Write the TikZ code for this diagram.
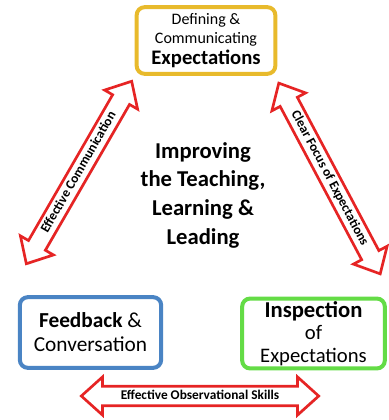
\documentclass[tikz,border=0pt]{standalone}
\usepackage{fontspec}
\setmainfont{Carlito}
\usetikzlibrary{arrows.meta,positioning,shapes.arrows,shadows}

\definecolor{boxgold}{RGB}{232,186,44}
\definecolor{boxblue}{RGB}{74,132,196}
\definecolor{boxgreen}{RGB}{100,220,70}
\definecolor{arrred}{RGB}{230,36,36}

\begin{document}
\begin{tikzpicture}[
    x=0.75pt, y=-0.75pt,
    box/.style={draw, line width=3pt, rounded corners=6pt, fill=white,
                align=center, inner sep=2pt},
    dblarr/.style={double arrow, draw=arrred, line width=2pt, fill=white,
                   double arrow head extend=7pt, double arrow tip angle=84,
                   inner xsep=0pt, inner ysep=1.6pt,
                   text height=7.2pt, text depth=2.2pt,
                   font=\fontsize{10}{10}\selectfont\bfseries,
                   drop shadow={opacity=0.25, shadow xshift=0.8pt, shadow yshift=-0.8pt}},
    big/.style={font=\fontsize{17}{21.5}\selectfont\bfseries, align=center}
  ]
  \useasboundingbox (0,0) rectangle (388,420);

  % boxes
  \node (define) [box, draw=boxgold, minimum width=104pt, minimum height=50pt,
                  font=\fontsize{12}{14}\selectfont]
        at (206,40.5)
        {Defining \&\\
         Communicating\\[1.5pt]
         {\fontsize{15.5}{14}\selectfont\bfseries Expectations}};
  \node (feed)   [box, draw=boxblue, minimum width=106pt, minimum height=53pt,
                  font=\fontsize{16}{18}\selectfont]
        at (90.5,332.5)
        {\textbf{Feedback} \&\\Conversation};
  \node (insp)   [box, draw=boxgreen, minimum width=107pt, minimum height=52pt,
                  font=\fontsize{15.5}{17}\selectfont]
        at (313.5,333.5)
        {{\fontsize{17}{17}\selectfont\bfseries Inspection}\\of\\Expectations};

  \node (core) [big] at (203,195)
        {Improving\\the Teaching,\\Learning \&\\Leading};

  % links
  \node (comm)  [dblarr, minimum height=158pt, rotate=60]  at (79,172.5)
        {Effective Communication};
  \node (focus) [dblarr, minimum height=162pt, rotate=-62] at (329.5,178.5)
        {Clear Focus of Expectations};
  \node (obs)   [dblarr, minimum height=178pt]             at (200,396)
        {Effective Observational Skills};
\end{tikzpicture}
\end{document}
